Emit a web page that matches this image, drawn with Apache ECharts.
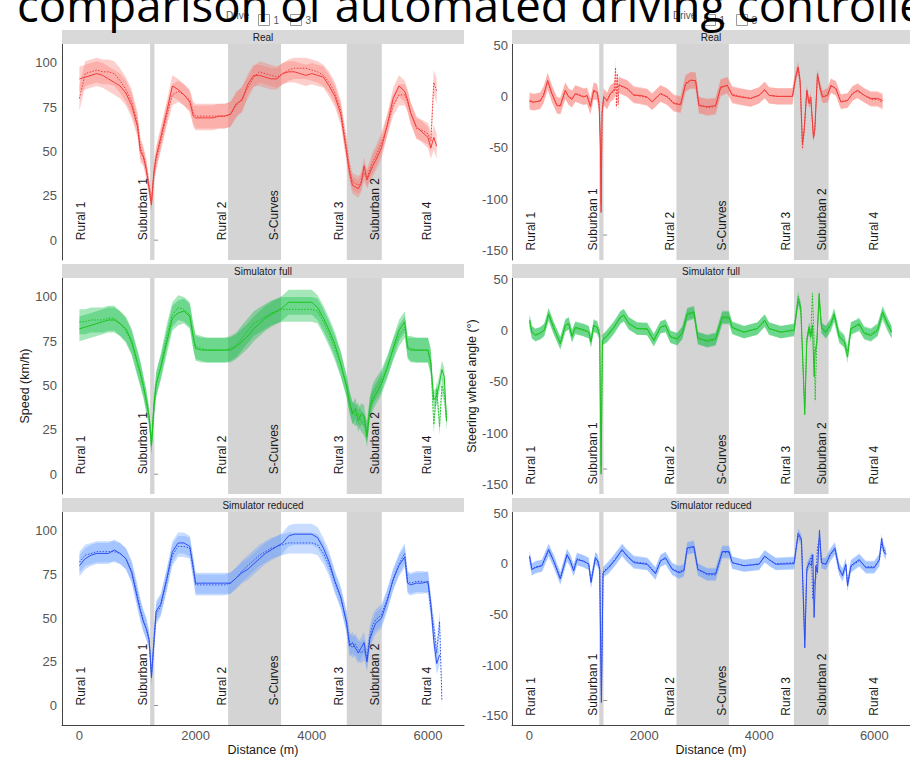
<!DOCTYPE html>
<html><head><meta charset="utf-8">
<script src="https://cdn.jsdelivr.net/npm/echarts@6/dist/echarts.min.js"></script>
<style>html,body{margin:0;padding:0;background:#fff;overflow:hidden}#c{width:910px;height:757px}</style>
</head><body><div id="c"></div><script>
// ---------------- DATA ----------------
const panelTitles = ['Real', 'Simulator full', 'Simulator reduced'];
const driveNames = ['1', '3'];
const regionNames = ['Rural 1', 'Suburban 1', 'Rural 2', 'S-Curves', 'Rural 3', 'Suburban 2', 'Rural 4'];
const regionPositions = [30, 1100, 2450, 3355, 4470, 5090, 5990];
const shadedSpans = [[1217, 1291], [2559, 3471], [4602, 5205]];
const speedTicks = [0, 25, 50, 75, 100];
const steerTicks = [-150, -100, -50, 0, 50];
const distanceTicks = [0, 2000, 4000, 6000];

const speedDistance = [
  0, 100, 200, 300, 400, 500, 600, 700, 800, 900,
  1000, 1050, 1100, 1150, 1200, 1240, 1280, 1320, 1400, 1500,
  1600, 1700, 1800, 1900, 1960, 2000, 2100, 2200, 2300, 2400,
  2500, 2600, 2700, 2800, 2900, 3000, 3100, 3200, 3300, 3400,
  3500, 3600, 3700, 3800, 3900, 4000, 4100, 4200, 4300, 4400,
  4500, 4600, 4650, 4700, 4750, 4800, 4850, 4900, 4950, 5000,
  5050, 5100, 5200, 5300, 5400, 5500, 5600, 5650, 5700, 5800,
  5900, 6000, 6050, 6100, 6150, 6200, 6240, 6280, 6320];

const speedReal1 = [
  91, 92, 93, 94, 93, 91, 89, 87, 83, 76,
  64, 50, 47, 40, 29, 20, 38, 47, 58, 72,
  87, 85, 82, 78, 70, 69, 69, 69, 69, 70,
  70, 71, 77, 79, 88, 93, 93, 92, 91, 91,
  94, 95, 95, 94, 93, 94, 93, 92, 87, 81,
  71, 49, 38, 31, 30, 29, 32, 42, 34, 38,
  42, 45, 52, 65, 80, 87, 84, 79, 72, 64,
  61, 58, 52, 58, 53, null, null, null, null];
const speedReal3 = [
  80, 94, 95, 96, 95, 95, 94, 90, 85, 78,
  66, 52, 48, 41, 30, 22, 36, 45, 56, 70,
  82, 84, 82, 79, 72, 70, 70, 70, 70, 70,
  70, 71, 76, 80, 86, 92, 95, 94, 93, 92,
  94, 96, 97, 97, 97, 96, 95, 93, 89, 83,
  73, 52, 40, 33, 32, 31, 33, 38, 35, 40,
  44, 47, 55, 65, 76, 82, 82, 78, 72, 63,
  62, 60, 56, 89, 84, null, null, null, null];
const speedRealSpread = [
  7, 7, 7, 7, 7, 7, 7, 7, 7, 7,
  6, 6, 5, 5, 5, 4, 5, 6, 6, 6,
  6, 6, 6, 6, 6, 7, 7, 7, 7, 7,
  7, 7, 7, 7, 6, 6, 6, 6, 6, 6,
  6, 6, 6, 6, 6, 6, 6, 6, 6, 6,
  6, 6, 5, 5, 5, 5, 5, 5, 5, 5,
  6, 6, 6, 6, 6, 6, 6, 6, 6, 6,
  6, 6, 6, 7, 7, null, null, null, null];

const speedFull1 = [
  82, 83, 84, 85, 86, 87, 87, 85, 82, 75,
  63, 57, 50, 42, 33, 16, 38, 51, 60, 74,
  88, 91, 92, 89, 77, 71, 70, 70, 70, 70,
  70, 70, 72, 75, 78, 82, 85, 88, 90, 92,
  94, 97, 97, 97, 97, 97, 94, 88, 81, 73,
  62, 49, 40, 34, 37, 30, 34, 33, 21, 37,
  42, 45, 51, 60, 71, 81, 86, 71, 70, 70,
  70, 70, 62, 42, 44, 52, 59, 55, 30];
const speedFull3 = [
  86, 86, 87, 87, 87, 88, 88, 85, 81, 74,
  62, 56, 49, 41, 31, 17, 36, 50, 61, 77,
  90, 94, 93, 90, 78, 72, 71, 70, 70, 70,
  70, 71, 73, 77, 81, 85, 87, 89, 91, 92,
  93, 93, 93, 93, 93, 93, 92, 86, 79, 71,
  62, 50, 41, 35, 33, 34, 30, 28, 24, 38,
  45, 48, 53, 61, 70, 78, 83, 72, 71, 70,
  70, 70, 64, 28, 48, 27, 50, 45, 30];
const speedFullSpread = [
  7, 7, 7, 7, 7, 7, 7, 7, 7, 7,
  7, 7, 6, 6, 5, 5, 6, 7, 7, 7,
  7, 7, 7, 7, 7, 7, 7, 7, 7, 7,
  7, 7, 7, 7, 7, 7, 7, 7, 7, 7,
  7, 7, 7, 7, 7, 7, 7, 7, 7, 7,
  7, 6, 6, 6, 6, 6, 6, 6, 6, 6,
  6, 6, 6, 6, 6, 6, 6, 6, 7, 7,
  7, 7, 7, 5, 5, 5, 5, 5, 5];

const speedReduced1 = [
  80, 84, 86, 87, 87, 87, 89, 87, 84, 76,
  61, 54, 48, 44, 38, 16, 36, 54, 58, 72,
  88, 93, 93, 91, 79, 70, 70, 70, 70, 70,
  70, 70, 73, 76, 78, 81, 84, 87, 89, 91,
  93, 97, 98, 98, 98, 98, 96, 90, 82, 71,
  62, 47, 34, 36, 33, 30, 33, 36, 25, 38,
  43, 47, 50, 60, 72, 80, 85, 70, 69, 70,
  70, 71, 58, 37, 24, 29, null, null, null];
const speedReduced3 = [
  82, 86, 87, 88, 88, 88, 88, 87, 84, 77,
  63, 55, 49, 44, 37, 18, 34, 52, 57, 71,
  86, 91, 91, 90, 78, 69, 69, 69, 69, 69,
  69, 70, 73, 77, 80, 83, 86, 88, 90, 91,
  92, 93, 93, 93, 93, 93, 92, 87, 80, 70,
  61, 48, 36, 33, 35, 32, 30, 32, 27, 40,
  46, 49, 52, 61, 72, 81, 87, 71, 70, 71,
  71, 70, 55, 45, 30, 48, 3, null, null];
const speedReducedSpread = [
  6, 6, 6, 6, 6, 6, 6, 6, 6, 6,
  6, 6, 6, 6, 5, 5, 6, 6, 6, 6,
  6, 6, 6, 6, 6, 6, 6, 6, 6, 6,
  6, 6, 6, 6, 6, 6, 6, 6, 6, 6,
  6, 6, 6, 6, 6, 6, 6, 6, 6, 6,
  6, 6, 6, 6, 6, 6, 6, 6, 6, 6,
  6, 6, 6, 6, 6, 6, 6, 6, 6, 6,
  6, 6, 6, 6, 6, 6, 6, null, null];

const steerRealDistance = [
  5, 75, 190, 250, 320, 395, 482, 540, 627, 685,
  743, 801, 946, 1005, 1063, 1121, 1179, 1214, 1237, 1249,
  1266, 1295, 1353, 1411, 1480, 1500, 1515, 1530, 1545, 1560,
  1585, 1701, 1818, 1934, 2050, 2137, 2282, 2398, 2514, 2631,
  2718, 2805, 2892, 2950, 3095, 3240, 3327, 3443, 3530, 3676,
  3850, 3995, 4094, 4170, 4315, 4576, 4634, 4675, 4710, 4750,
  4779, 4826, 4866, 4895, 4942, 4965, 5011, 5058, 5099, 5186,
  5244, 5331, 5418, 5534, 5621, 5708, 5824, 5940, 6057, 6144];
const steerReal1 = [
  -4, -5.5, -4.5, 1, 15.5, 2.6, -9, -9, 6, -0.6,
  -3, 2.6, -0.6, 1, -10, 6, 4, -7, -49, -113,
  -17, -0.6, -4, 2.6, 7, 8, 9, 9, 10, 10,
  10.7, 7.5, 1, 1, -0.6, -5.5, 2.6, -0.6, -7, -8,
  12, 15.5, 15.5, -9, -10, -9, 9, 10.7, 1, -0.6,
  -2, 1, 6.5, 1, 0, 0, 19, 28.6, 15.6, -46,
  -33, 6, -7, -0.6, -40, -33, 22, 7.5, -0.6, 1,
  10.7, 7.5, -5.5, -4, 2.6, 6, 1, -2, -2, -4];
const steerReal3 = [
  -5, -6, -4, 2, 14, 2, -8, -10, 5, 0,
  -2, 3, 0, 0, -9, 5, 4, -6, -40, -105,
  -15, 0, -5, 3, 5, 28, -10, 22, -8, 12,
  10, 8, 2, 0, -1, -5, 3, 0, -6, -8,
  13, 16, 15, -8, -11, -10, 8, 11, 2, 0,
  -2, 1, 6, 1, 0, 0, 20, 27, 12, -51,
  -35, 5, -6, -3, -41, -30, 20, 8, 0, 1,
  10, 8, -5, -4, 3, 5, 1, -3, -3, -6];
const steerRealSpread = [
  8, 8, 8, 8, 8, 8, 8, 8, 8, 8,
  8, 8, 8, 8, 8, 8, 8, 8, 4, 3,
  4, 8, 8, 8, 8, 8, 8, 8, 8, 8,
  8, 8, 8, 8, 8, 8, 8, 8, 8, 8,
  8, 8, 8, 8, 8, 8, 8, 8, 8, 8,
  8, 8, 8, 8, 8, 8, 6, 5, 5, 4,
  4, 5, 5, 5, 4, 4, 5, 6, 6, 7,
  7, 7, 7, 7, 7, 7, 7, 7, 7, 7];

const steerFullDistance = [
  5, 46, 105, 190, 261, 337, 424, 540, 627, 685,
  743, 801, 946, 1034, 1074, 1121, 1179, 1225, 1249, 1272,
  1353, 1469, 1585, 1643, 1731, 1876, 2050, 2166, 2282, 2369,
  2456, 2573, 2660, 2747, 2863, 2932, 3095, 3240, 3356, 3473,
  3530, 3734, 3966, 4094, 4170, 4373, 4605, 4675, 4721, 4790,
  4826, 4866, 4895, 4924, 4953, 4971, 5000, 5040, 5081, 5157,
  5244, 5302, 5389, 5476, 5534, 5592, 5737, 5824, 5940, 6057,
  6144, 6231, 6301];
const steerFull1 = [
  10, -1.6, -5, -2.6, 0, 16, 3, -13, 5, 6.5,
  -6, 3, 0.6, -1.6, -11, 5, 3, -5, -140, -10,
  -5, 3, 13, 14.6, 6.5, 1.6, 1.6, -10, 3, 5,
  -6.5, -8, -3, 16, 18, -8, -10, -8, 13, 13,
  3, -1.6, 1.6, 10, 1.6, -1.6, 0, 29, 23, -82,
  -10, 3, -6.5, 5, -45, -20, -13, 36, 3, -1.6,
  6.5, 16, -6.5, -11, -26, 1.6, 6.5, -3, -5, 0,
  18, 6.5, -1.6];
const steerFull3 = [
  8, -2, -4, -3, 1, 15, 2, -12, 4, 7,
  -5, 2, 0, -2, -10, 4, 3, -4, -132, -9,
  -6, 2, 12, 15, 7, 2, 1, -9, 3, 4,
  -6, -9, -2, 15, 17, -7, -11, -9, 12, 12,
  2, -2, 2, 9, 2, -2, 1, 33, 20, -75,
  -8, 2, -5, 36, -10, -68, -10, 30, 2, -2,
  5, 14, -5, -10, -20, 2, 5, -2, -4, 1,
  16, 5, -2];
const steerFullSpread = [
  6, 6, 6, 6, 6, 6, 6, 6, 6, 6,
  6, 6, 6, 6, 6, 6, 6, 5, 3, 5,
  6, 6, 6, 6, 6, 6, 6, 6, 6, 6,
  6, 6, 6, 6, 6, 6, 6, 6, 6, 6,
  6, 6, 6, 6, 6, 6, 6, 5, 5, 3,
  4, 5, 5, 4, 4, 4, 5, 4, 5, 6,
  6, 6, 6, 6, 6, 6, 6, 6, 6, 6,
  6, 6, 6];

const steerReducedDistance = [
  5, 46, 105, 220, 337, 424, 540, 656, 714, 772,
  830, 946, 1034, 1074, 1150, 1190, 1225, 1254, 1283, 1382,
  1498, 1614, 1701, 1818, 2050, 2195, 2282, 2369, 2485, 2602,
  2689, 2747, 2863, 2932, 3095, 3240, 3356, 3473, 3530, 3734,
  3995, 4094, 4170, 4286, 4605, 4675, 4733, 4791, 4826, 4866,
  4907, 4930, 4953, 4982, 5011, 5046, 5081, 5157, 5232, 5314,
  5389, 5447, 5505, 5534, 5592, 5737, 5853, 5998, 6086, 6127,
  6162, 6202];
const steerReduced1 = [
  7.5, -5.5, -4, -2, 14, 2.6, -15, 9, 2.6, -7,
  4, 2.6, -0.6, -18.5, 6, 2.6, -5.5, -137, -9, -4,
  4, 14, 7.5, 1, -0.6, -10, 2.6, 6, -5.5, -9,
  -7, 15.6, 17, -5.5, -10, -10, 12, 12, 1, -2,
  -0.6, 7.5, 4, -0.6, 0, 30, 24, -83, -5.5, 1,
  -2, 9, -53, -2, -9, 33, 1, -0.6, 9, 15.6,
  -5.5, -12, -0.6, -22, -2, 4, -4, -4, 4, 25,
  12, 9];
const steerReduced3 = [
  6, -6, -3, -2, 13, 3, -14, 8, 3, -6,
  5, 2, 0, -17, 5, 3, -5, -130, -8, -3,
  5, 13, 8, 2, 0, -9, 3, 5, -5, -8,
  -6, 15, 16, -6, -11, -11, 11, 11, 1, -2,
  0, 7, 4, 0, 1, 28, 22, -75, -4, 0,
  8, -35, -20, -15, 15, 25, 0, 0, 8, 14,
  -5, -10, -1, -20, -3, 3, -3, -3, 3, 20,
  15, 10];
const steerReducedSpread = [
  6, 6, 6, 6, 6, 6, 6, 6, 6, 6,
  6, 6, 6, 6, 6, 6, 5, 3, 5, 6,
  6, 6, 6, 6, 6, 6, 6, 6, 6, 6,
  6, 6, 6, 6, 6, 6, 6, 6, 6, 6,
  6, 6, 6, 6, 6, 5, 5, 3, 5, 5,
  4, 4, 3, 4, 4, 4, 5, 6, 6, 6,
  6, 6, 6, 6, 6, 6, 6, 6, 6, 5,
  5, 5];

// ---------------- LAYOUT / STYLE ----------------
const FONT = 'Liberation Sans, Arial, sans-serif';
const X_RANGE = [-300, 6620];
const SPEED_RANGE = [-11.2, 110.7];
const STEER_RANGE = [-159.3, 51];
const COLS = [{ left: 62, width: 402 }, { left: 512, width: 398 }];
const ROW_TOPS = [44, 278, 512];
const PLOT_H = 216, STRIP_H = 14;
const lineColors = ['#ef3d3d', '#1cc41c', '#2f4ff0'];
const bandColors = ['#F8766D', '#00BA38', '#619CFF'];

const panels = [
  { row: 0, col: 0, xs: speedDistance, d1: speedReal1, d3: speedReal3, sp: speedRealSpread },
  { row: 0, col: 1, xs: steerRealDistance, d1: steerReal1, d3: steerReal3, sp: steerRealSpread },
  { row: 1, col: 0, xs: speedDistance, d1: speedFull1, d3: speedFull3, sp: speedFullSpread },
  { row: 1, col: 1, xs: steerFullDistance, d1: steerFull1, d3: steerFull3, sp: steerFullSpread },
  { row: 2, col: 0, xs: speedDistance, d1: speedReduced1, d3: speedReduced3, sp: speedReducedSpread },
  { row: 2, col: 1, xs: steerReducedDistance, d1: steerReduced1, d3: steerReduced3, sp: steerReducedSpread }
];

const grid = [], xAxis = [], yAxis = [], series = [], graphic = [];

function pairs(xs, ys) {
  const out = [];
  for (let i = 0; i < xs.length; i++) if (ys[i] != null) out.push([xs[i], ys[i]]);
  return out;
}

panels.forEach((p, i) => {
  const c = COLS[p.col];
  const top = ROW_TOPS[p.row];
  const yr = p.col === 0 ? SPEED_RANGE : STEER_RANGE;
  const bottomRow = p.row === 2;
  grid.push({ left: c.left, top: top, width: c.width, height: PLOT_H });
  xAxis.push({
    gridIndex: i, type: 'value', min: X_RANGE[0], max: X_RANGE[1],
    axisLine: { show: bottomRow, onZero: false, lineStyle: { color: '#444', width: 1 } },
    axisTick: { show: false }, splitLine: { show: false },
    axisLabel: { show: bottomRow, customValues: distanceTicks, margin: 4, fontSize: 13, color: '#555',
      fontFamily: FONT, formatter: (v) => String(v) },
    name: bottomRow ? 'Distance (m)' : '', nameLocation: 'middle', nameGap: 13,
    nameTextStyle: { fontSize: 12.5, color: '#1a1a1a', fontFamily: FONT }
  });
  yAxis.push({
    gridIndex: i, type: 'value', min: yr[0], max: yr[1],
    axisLine: { show: true, onZero: false, lineStyle: { color: '#444', width: 1 } },
    axisTick: { show: false }, splitLine: { show: false },
    axisLabel: { customValues: p.col === 0 ? speedTicks : steerTicks, margin: p.col === 0 ? 5 : 4,
      fontSize: 13, color: '#555', fontFamily: FONT, formatter: (v) => String(v) },
    name: p.row === 1 ? (p.col === 0 ? 'Speed (km/h)' : 'Steering wheel angle (°)') : '',
    nameLocation: 'middle', nameGap: p.col === 0 ? 19 : 27,
    nameTextStyle: { fontSize: 12.5, color: '#1a1a1a', fontFamily: FONT }
  });

  // shaded road segments
  series.push({
    type: 'custom', xAxisIndex: i, yAxisIndex: i, silent: true, z: 1,
    data: shadedSpans.map(s => [s[0], 0, s[1]]),
    encode: { x: 0, y: 1 },
    renderItem: (params, api) => {
      const a = api.coord([api.value(0), yr[1]]);
      const b = api.coord([api.value(2), yr[0]]);
      return { type: 'rect', shape: { x: a[0], y: a[1], width: b[0] - a[0], height: b[1] - a[1] }, style: { fill: '#d4d4d4' } };
    }
  });

  // ribbons for both drives
  [p.d1, p.d3].forEach((ys) => {
    series.push({
      type: 'custom', xAxisIndex: i, yAxisIndex: i, silent: true, z: 2,
      data: [[p.xs[0], ys[0]]],
      renderItem: (params, api) => {
        const up = [], dn = [];
        for (let k = 0; k < p.xs.length; k++) {
          if (ys[k] == null || p.sp[k] == null) continue;
          up.push(api.coord([p.xs[k], ys[k] + p.sp[k]]));
          dn.push(api.coord([p.xs[k], ys[k] - p.sp[k]]));
        }
        return { type: 'polygon', shape: { points: up.concat(dn.reverse()) },
          style: { fill: bandColors[p.row], opacity: 0.35 } };
      }
    });
  });

  // mean lines
  series.push({
    type: 'line', name: driveNames[0], xAxisIndex: i, yAxisIndex: i, z: 3,
    data: pairs(p.xs, p.d1), showSymbol: false, symbol: 'none', silent: true,
    lineStyle: { color: lineColors[p.row], width: 1 }, itemStyle: { color: lineColors[p.row] }
  });
  series.push({
    type: 'line', name: driveNames[1], xAxisIndex: i, yAxisIndex: i, z: 3,
    data: pairs(p.xs, p.d3), showSymbol: false, symbol: 'none', silent: true,
    lineStyle: { color: lineColors[p.row], width: 1, type: [1.5, 1.5] }, itemStyle: { color: lineColors[p.row] }
  });

  // segment labels
  const baseY = p.col === 0 ? 0 : -150;
  series.push({
    type: 'custom', xAxisIndex: i, yAxisIndex: i, silent: true, z: 4,
    data: regionPositions.map((x, k) => [x, baseY, k]),
    encode: { x: 0, y: 1 },
    renderItem: (params, api) => {
      const pt = api.coord([api.value(0), api.value(1)]);
      return { type: 'text', x: pt[0], y: pt[1], rotation: Math.PI / 2,
        style: { text: regionNames[api.value(2)], align: 'left', verticalAlign: 'middle',
          fill: '#1a1a1a', font: '12px ' + FONT } };
    }
  });
  // small dash near Suburban 1
  series.push({
    type: 'scatter', xAxisIndex: i, yAxisIndex: i, silent: true, z: 4,
    data: [[1320, p.col === 0 ? 0 : -135]], symbol: 'rect', symbolSize: [4, 1],
    itemStyle: { color: '#777' }
  });

  // facet strip
  graphic.push({ type: 'rect', shape: { x: c.left, y: top - STRIP_H, width: c.width, height: STRIP_H },
    style: { fill: '#d9d9d9' }, z: 5 });
  graphic.push({ type: 'text', x: c.left + c.width / 2, y: top - STRIP_H / 2, z: 6,
    style: { text: panelTitles[p.row], align: 'center', verticalAlign: 'middle', fill: '#1a1a1a', font: '10px ' + FONT } });
});

// legend titles
graphic.push({ type: 'text', x: 226, y: 15, z: 6, style: { text: 'Drive', align: 'left', verticalAlign: 'middle', fill: '#555', font: '10px ' + FONT } });
graphic.push({ type: 'text', x: 673, y: 15, z: 6, style: { text: 'Drive', align: 'left', verticalAlign: 'middle', fill: '#555', font: '10px ' + FONT } });
// slide title (cut at the top and right of the picture)
graphic.push({ type: 'text', x: 17, y: 4, z: 100,
  style: { text: 'comparison of automated driving controllers', align: 'left', verticalAlign: 'middle',
    fill: '#000', font: '45.5px "Open Sans", sans-serif' } });

const legendBase = {
  top: 9, data: driveNames, icon: 'rect', itemWidth: 11, itemHeight: 11, itemGap: 11, selectedMode: false,
  itemStyle: { color: '#fff', borderColor: '#999', borderWidth: 1 },
  lineStyle: { color: '#999', width: 0 },
  textStyle: { fontSize: 10, color: '#555', fontFamily: FONT, padding: [0, 0, 0, -1] }
};

const chart = echarts.init(document.getElementById('c'), null, { renderer: 'svg', width: 910, height: 757 });
chart.setOption({
  animation: false,
  backgroundColor: '#fff',
  legend: [Object.assign({ left: 253 }, legendBase), Object.assign({ left: 699 }, legendBase)],
  grid, xAxis, yAxis, series, graphic
});
</script></body></html>
